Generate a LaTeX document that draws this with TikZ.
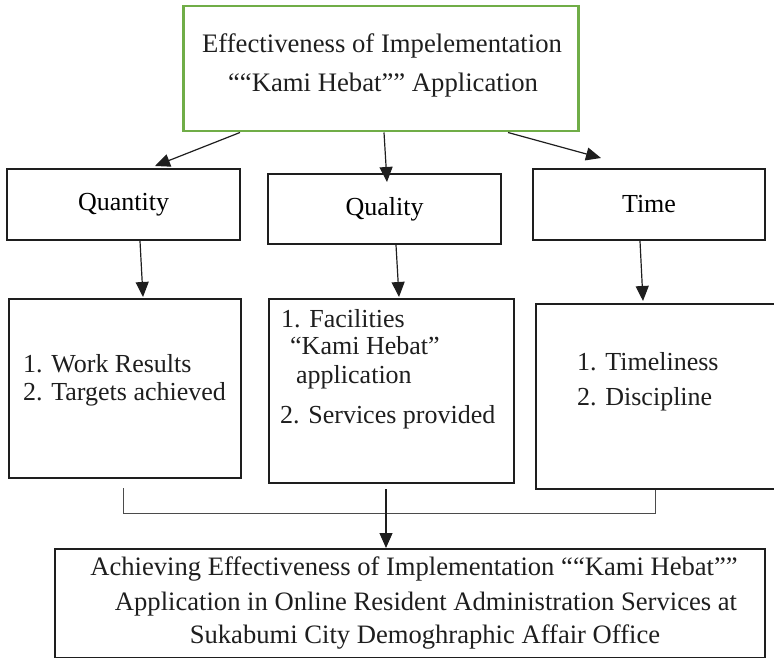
\documentclass[tikz,border=0pt]{standalone}
\usepackage{fontspec}
\setmainfont{Liberation Serif}
\usetikzlibrary{arrows.meta,calc}
\definecolor{topgreen}{HTML}{70AD47}
\definecolor{ink}{HTML}{1E1E1E}
\tikzset{
  box/.style={draw=ink, line width=2pt, anchor=north west, inner sep=0pt},
  topbox/.style={draw=topgreen, line width=2.5pt, anchor=north west, inner sep=0pt},
  lastbox/.style={draw=ink, line width=1.6pt, anchor=north west, inner sep=0pt},
  txt/.style={inner sep=0pt, anchor=base west, text=ink, font=\fontsize{26}{30}\selectfont},
  ctxt/.style={inner sep=0pt, anchor=base, text=ink, font=\fontsize{26.6}{30}\selectfont},
  ttxt/.style={inner sep=0pt, anchor=base, text=ink, font=\fontsize{26.7}{32}\selectfont},
  conn/.style={draw=ink, line width=1.2pt, -{Triangle[length=15pt,width=13pt]}},
  bracket/.style={draw=ink!80, line width=1pt}
}
\begin{document}
\begin{tikzpicture}[x=1pt,y=-1pt]
\useasboundingbox (0,0) rectangle (774,658);
% top
\node[topbox, minimum width=395pt, minimum height=125pt] (top) at (182,5) {};
\node[ttxt] (t1) at (382,53) {Effectiveness of Impelementation};
\node[ttxt] (t2) at (383,92) {““Kami Hebat”” Application};
% level 2
\node[box, minimum width=233pt, minimum height=71pt, font=\fontsize{26}{30}\selectfont] (qty) at (6,168) {Quantity};
\node[box, minimum width=233pt, minimum height=70pt, font=\fontsize{26}{30}\selectfont] (qual) at (267,173) {\raisebox{5pt}{Quality}};
\node[box, minimum width=232pt, minimum height=71pt, font=\fontsize{26}{30}\selectfont] (time) at (532,168) {Time};
% level 3
\node[box, minimum width=232pt, minimum height=179pt] (qtyL) at (8,298) {};
\node[box, minimum width=245pt, minimum height=184pt] (qualL) at (268,298) {};
\node[box, minimum width=240pt, minimum height=185pt] (timeL) at (535,303) {};
\node[txt] (q1) at (23,372) {1. Work Results};
\node[txt] (q2) at (23,400) {2. Targets achieved};
\node[txt] (u1) at (281,327) {1. Facilities};
\node[txt] (u2) at (290,354) {“Kami Hebat”};
\node[txt] (u3) at (296,383) {application};
\node[txt] (u4) at (280,423) {2. Services provided};
\node[txt] (m1) at (577,370) {1. Timeliness};
\node[txt] (m2) at (577,405) {2. Discipline};
% bottom
\node[lastbox, minimum width=710pt, minimum height=109pt] (bot) at (54,548) {};
\node[ctxt] (b1) at (414,575) {Achieving Effectiveness of Implementation ““Kami Hebat””};
\node[ctxt] (b2) at (426,610) {Application in Online Resident Administration Services at};
\node[ctxt] (b3) at (425,643) {Sukabumi City Demoghraphic Affair Office};
% connectors
\draw[conn] ($(top.south west)+(58,0)$) -- ($(qty.north west)+(149,-2)$);
\draw[conn] ($(top.south west)+(202,0)$) -- ($(qual.north west)+(120,9)$);
\draw[conn] ($(top.south west)+(326,0)$) -- ($(time.north west)+(69,-10)$);
\draw[conn] ($(qty.south west)+(134,0)$) -- ($(qtyL.north west)+(135,-1)$);
\draw[conn] ($(qual.south west)+(129,0)$) -- ($(qualL.north west)+(131,-1)$);
\draw[conn] ($(time.south west)+(108,0)$) -- ($(timeL.north west)+(108,-2)$);
\draw[bracket] ($(qtyL.south west)+(115,9)$) |- ($(timeL.south west)+(120,23)$) -- ($(timeL.south west)+(120,0)$);
\draw[conn] ($(qualL.south west)+(118,5)$) -- ($(bot.north west)+(332,0)$);
\end{tikzpicture}
\end{document}
